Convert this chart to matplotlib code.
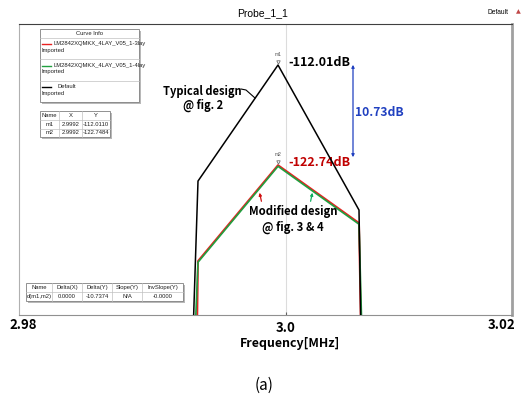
import matplotlib
matplotlib.use('Agg')
import matplotlib.pyplot as plt
from matplotlib.patches import Rectangle, FancyArrowPatch
from matplotlib.lines import Line2D

W, H = 529, 397

# curves (frequency in MHz, level in dB)
freq_default = [2.9907, 2.9912, 2.9992, 3.0073, 3.0075]
db_default = [-141.0, -124.46, -112.01, -127.57, -141.0]
freq_3lay = [2.9911, 2.9912, 2.9992, 3.0073, 3.0075]
db_3lay = [-141.0, -133.04, -122.75, -128.96, -141.0]
freq_4lay = [2.9909, 2.9912, 2.9992, 3.0073, 3.0076]
db_4lay = [-141.0, -133.17, -122.88, -129.09, -141.0]

markers = ['m1', 'm2']
marker_x = [2.9992, 2.9992]
marker_y = [-112.0110, -122.7484]
marker_labels = ['-112.01dB', '-122.74dB']
delta_text = '10.73dB'

curve_names = ['LM2842XQMKX_4LAY_V05_1-3lay', 'LM2842XQMKX_4LAY_V05_1-4lay', 'Default']
curve_colors = ['#e82020', '#20a040', 'black']
xtick_labels = ['2.98', '3.0', '3.02']

BOLD = ['Noto Sans CJK KR', 'DejaVu Sans']
SMALL = ['Liberation Sans', 'DejaVu Sans']


def fx(px):
    return px / W


def fy(py):
    return 1 - py / H


fig = plt.figure(figsize=(W / 100, H / 100), dpi=100)
ax = fig.add_axes([fx(19), fy(315), (512 - 19) / W, (315 - 24) / H])

ax.plot(freq_3lay, db_3lay, color=curve_colors[0], lw=1.4, zorder=3)
ax.plot(freq_4lay, db_4lay, color=curve_colors[1], lw=1.2, zorder=4)
ax.plot(freq_default, db_default, color=curve_colors[2], lw=1.1, zorder=5)
ax.axvline(3.0, color='#dcdcdc', lw=0.8, zorder=1)

ax.set_xlim(3.0 - 0.0267, 3.0 + 0.0226)
ax.set_ylim(-138.83, -107.61)
ax.set_xticks([3.0])
ax.set_xticklabels([''])
ax.set_yticks([])
ax.tick_params(axis='x', direction='in', length=2, color='#606060')
ax.spines['top'].set_color('#404040')
ax.spines['left'].set_color('#b0b0b0')
ax.spines['right'].set_color('#a0a0a0')
ax.spines['right'].set_linewidth(2)
ax.spines['bottom'].set_color('#909090')

# markers
for name, mx, my, lab, col in zip(markers, marker_x, marker_y, marker_labels, ['black', '#c00000']):
    ax.plot([mx], [my + 0.35], marker='v', ms=2.5, mfc='none', mec='#707070', mew=0.6, zorder=6)
    ax.text(mx, my + 0.9, name, fontsize=3.5, color='#505050', ha='center', va='bottom', family=SMALL)
    ax.text(mx + 0.0010, my + 0.3, lab, fontsize=9, color=col, fontweight='bold', ha='left',
            va='center', family=BOLD)

# delta arrow
arr = FancyArrowPatch((fx(353), fy(62)), (fx(353), fy(160)), transform=fig.transFigure,
                      arrowstyle='<|-|>', mutation_scale=4, color='#2040c0', lw=0.9)
fig.patches.append(arr)
fig.text(fx(355), fy(112), delta_text, fontsize=8.7, color='#2040c0', fontweight='bold',
         ha='left', va='center', family=BOLD)

# annotations
fig.text(fx(202), fy(91), 'Typical design', fontsize=8.0, fontweight='bold', ha='center', va='center', family=BOLD)
fig.text(fx(203), fy(105), '@ fig. 2', fontsize=8.0, fontweight='bold', ha='center', va='center', family=BOLD)
fig.lines.append(Line2D([fx(241), fx(246), fx(255)], [fy(89), fy(90), fy(98)], transform=fig.transFigure,
                        color='black', lw=0.8))
fig.text(fx(293), fy(212), 'Modified design', fontsize=8.2, fontweight='bold', ha='center', va='center', family=BOLD)
fig.text(fx(293), fy(227), '@ fig. 3 & 4', fontsize=8.2, fontweight='bold', ha='center', va='center', family=BOLD)
for (x0, y0, x1, y1, c) in [(262, 204, 259, 190, '#d01010'), (310, 204, 313, 190, '#10b060')]:
    fig.patches.append(FancyArrowPatch((fx(x0), fy(y0)), (fx(x1), fy(y1)), transform=fig.transFigure,
                                       arrowstyle='-|>', mutation_scale=4, color=c, lw=0.9))


def box(x0, y0, x1, y1, shadow=True):
    if shadow:
        fig.patches.append(Rectangle((fx(x0 + 2), fy(y1 + 2)), (x1 - x0) / W, (y1 - y0) / H,
                                     transform=fig.transFigure, fc='#b8b8b8', ec='none', zorder=8))
    fig.patches.append(Rectangle((fx(x0), fy(y1)), (x1 - x0) / W, (y1 - y0) / H,
                                 transform=fig.transFigure, fc='white', ec='#808080', lw=0.6, zorder=9))


def hline(x0, x1, y, col='#c0c0c0', lw=0.5):
    fig.lines.append(Line2D([fx(x0), fx(x1)], [fy(y), fy(y)], transform=fig.transFigure,
                            color=col, lw=lw, zorder=10))


def vline(x, y0, y1):
    fig.lines.append(Line2D([fx(x), fx(x)], [fy(y0), fy(y1)], transform=fig.transFigure,
                            color='#c0c0c0', lw=0.5, zorder=10))


def small(x, y, s, ha='left'):
    fig.text(fx(x), fy(y), s, fontsize=4.2, ha=ha, va='center', family=SMALL, color='#202020', zorder=11)


# curve info box
box(40, 29, 139, 102)
hline(40, 139, 38)
hline(40, 139, 59)
hline(40, 139, 81)
small(89.5, 33.5, 'Curve Info', ha='center')
for i, (name, col) in enumerate(zip(curve_names, curve_colors)):
    ly = 44 + 21.5 * i
    hline(42, 51, ly, col=col, lw=1.0)
    small(54 if i < 2 else 57, ly, name)
    small(41.5, ly + 6.5, 'Imported')

# marker table
box(40, 111, 110, 137)
for y in [120, 128.5]:
    hline(40, 110, y)
for x in [59, 82]:
    vline(x, 111, 137)
tab_cols = [49.5, 70.5, 96]
small(tab_cols[0], 115.5, 'Name', ha='center')
small(tab_cols[1], 115.5, 'X', ha='center')
small(tab_cols[2], 115.5, 'Y', ha='center')
for i, (name, mx, my) in enumerate(zip(markers, marker_x, marker_y)):
    ry = 124.3 + 8.5 * i
    small(tab_cols[0], ry, name, ha='center')
    small(tab_cols[1], ry, f'{mx:.4f}', ha='center')
    small(tab_cols[2], ry, f'{my:.4f}', ha='center')

# delta table
delta_head = ['Name', 'Delta(X)', 'Delta(Y)', 'Slope(Y)', 'InvSlope(Y)']
delta_row = ['d(m1,m2)', '0.0000', '-10.7374', 'N/A', '-0.0000']
dx = [26, 52, 82, 112, 142, 183]
box(26, 283, 183, 301)
hline(26, 183, 292)
for x in dx[1:-1]:
    vline(x, 283, 301)
for i in range(5):
    cx = (dx[i] + dx[i + 1]) / 2
    small(cx, 287.5, delta_head[i], ha='center')
    small(cx, 296.5, delta_row[i], ha='center')

# titles and axis texts
fig.text(fx(263), fy(13), 'Probe_1_1', fontsize=7.5, ha='center', va='center', family=SMALL)
fig.text(fx(498), fy(13), 'Default', fontsize=4.8, ha='center', va='center', family=SMALL)
fig.text(fx(518), fy(12), '\u25b2', fontsize=4.5, ha='center', va='center', color='#c04848')
fig.text(fx(23), fy(325), xtick_labels[0], fontsize=9.5, fontweight='bold', ha='center', va='center', family=BOLD)
fig.text(fx(286), fy(328), xtick_labels[1], fontsize=9.5, fontweight='bold', ha='center', va='center', family=BOLD)
fig.text(fx(502), fy(325), xtick_labels[2], fontsize=9.5, fontweight='bold', ha='center', va='center', family=BOLD)
fig.text(fx(290), fy(343), 'Frequency[MHz]', fontsize=8.9, fontweight='bold', ha='center', va='center', family=BOLD)
fig.text(fx(264), fy(385), '(a)', fontsize=11, ha='center', va='center', family=BOLD)

fig.savefig('out.png', dpi=100)
